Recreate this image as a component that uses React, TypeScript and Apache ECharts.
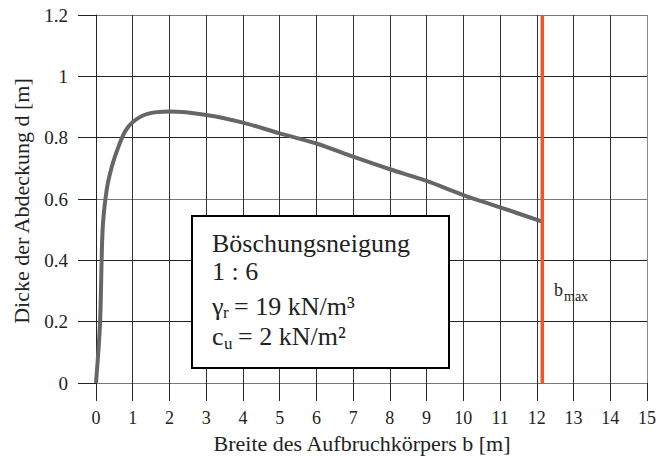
import React, { useEffect, useRef } from "react";
import * as echarts from "echarts";

// Breite des Aufbruchkörpers b [m]
const bWidth = [0, 0.11, 0.18, 0.29, 0.43, 0.61, 0.79, 1.01, 1.38, 2.01, 3.0, 4.0, 5.0, 6.0, 7.0, 8.0, 9.0, 10.0, 11.0, 12.15];
// Dicke der Abdeckung d [m]
const thickness = [0, 0.195, 0.5, 0.629, 0.705, 0.77, 0.82, 0.852, 0.877, 0.885, 0.874, 0.849, 0.814, 0.781, 0.738, 0.697, 0.659, 0.613, 0.573, 0.526];
// maximale Breite
const bMax = 12.15;

const xTicks = [0, 1, 2, 3, 4, 5, 6, 7, 8, 9, 10, 11, 12, 13, 14, 15];
const yTicks = [0, 0.2, 0.4, 0.6, 0.8, 1, 1.2];

const SERIF = "Liberation Serif";
const INK = "#222";

const txt = (text: string, x: number, y: number, size: number, extra: Record<string, unknown> = {}) => ({
  type: "text",
  x,
  y,
  z: 11,
  ...extra,
  style: {
    text,
    fontFamily: SERIF,
    fontSize: size,
    fill: INK,
    align: "left",
    verticalAlign: "middle",
    ...((extra.style as object) || {}),
  },
});

export default function App() {
  const ref = useRef<HTMLDivElement>(null);

  useEffect(() => {
    if (!ref.current) return;
    const chart = echarts.init(ref.current, undefined, { renderer: "svg" });

    const curve = bWidth.map((b, i) => [b, thickness[i]]);

    const xSplitColors = xTicks.map((t) => (t === 15 ? "#888" : "#333"));
    const ySplitColors = yTicks.map((t) => (t === 0 || t === 0.6 || t === 1.2 ? "#777" : "#222"));

    chart.setOption({
      animation: false,
      backgroundColor: "#fff",
      textStyle: { fontFamily: SERIF },
      grid: { left: 96, right: 11, top: 15, bottom: 75, containLabel: false },
      xAxis: {
        type: "value",
        min: xTicks[0],
        max: xTicks[xTicks.length - 1],
        interval: 1,
        axisLine: { show: true, onZero: false, lineStyle: { color: "#777", width: 1 } },
        axisTick: { show: true, length: 18, lineStyle: { color: INK, width: 1 } },
        axisLabel: { fontFamily: SERIF, fontSize: 18, color: INK, margin: 26 },
        splitLine: { show: true, lineStyle: { color: xSplitColors, width: 1 } },
      },
      yAxis: {
        type: "value",
        min: yTicks[0],
        max: yTicks[yTicks.length - 1],
        interval: 0.2,
        axisLine: { show: true, onZero: false, lineStyle: { color: INK, width: 1 } },
        axisTick: { show: true, length: 18, lineStyle: { color: INK, width: 1 } },
        axisLabel: {
          fontFamily: SERIF,
          fontSize: 19,
          color: INK,
          margin: 28,
          formatter: (v: number) => String(Math.round(v * 10) / 10),
        },
        splitLine: { show: true, lineStyle: { color: ySplitColors, width: 1 } },
      },
      series: [
        {
          type: "line",
          data: curve,
          smooth: 0.3,
          showSymbol: false,
          symbol: "none",
          lineStyle: { color: "#666", width: 4 },
          z: 3,
        },
        {
          type: "line",
          data: [
            [bMax, yTicks[0]],
            [bMax, yTicks[yTicks.length - 1]],
          ],
          showSymbol: false,
          symbol: "none",
          lineStyle: { color: "#f4522d", width: 3.5 },
          z: 4,
        },
      ],
      graphic: [
        // axis titles
        txt("Breite des Aufbruchkörpers b [m]", 362, 443, 22, { style: { align: "center" } }),
        txt("Dicke der Abdeckung d [m]", 21, 201, 22, { rotation: Math.PI / 2, style: { align: "center" } }),
        // b_max label
        txt("b", 554, 290, 18),
        txt("max", 564, 296, 14),
        // parameter box
        {
          type: "rect",
          shape: { x: 192, y: 216, width: 257, height: 152 },
          style: { fill: "#fff", stroke: "#000", lineWidth: 2 },
          z: 10,
        },
        txt("Böschungsneigung", 212, 243, 26),
        txt("1 : 6", 212, 271, 26),
        txt("γ", 212, 306, 26),
        txt("r", 223, 312, 17),
        txt("= 19 kN/m³", 234, 306, 26),
        txt("c", 212, 336, 26),
        txt("u", 224, 343, 17),
        txt("= 2 kN/m²", 238, 336, 26),
      ],
    });

    return () => chart.dispose();
  }, []);

  return <div ref={ref} style={{ width: 659, height: 458, position: "absolute", left: 0, top: 0 }} />;
}
